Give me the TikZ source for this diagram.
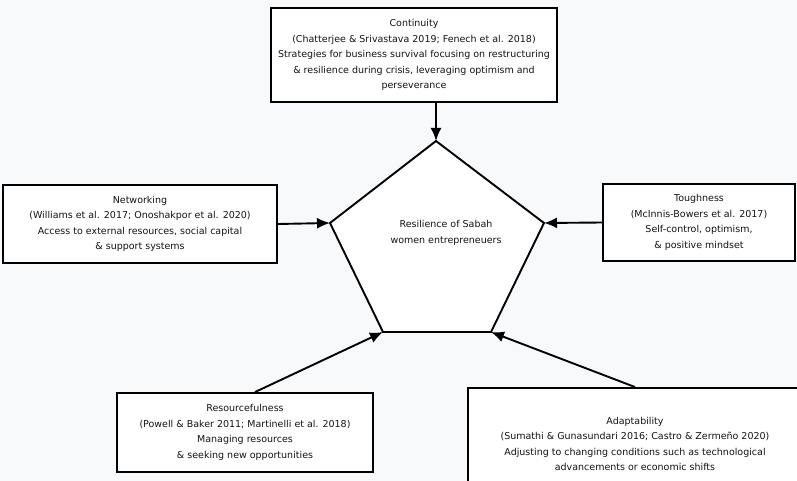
\documentclass[tikz,border=0pt]{standalone}
\definecolor{pagegrey}{RGB}{248,249,251}
\definecolor{textdark}{RGB}{20,20,20}
\usepackage{fontspec}
\setmainfont{DejaVu Sans}
\usepackage{tikz}
\usetikzlibrary{arrows.meta,positioning,calc}

\begin{document}
\begin{tikzpicture}[x=1pt,y=-1pt,
    themebox/.style={draw=black, line width=1.9pt, fill=white, align=center, text=textdark,
        font=\fontsize{9.5}{15.5}\selectfont, inner sep=0pt},
    feed/.style={line width=1.9pt, -{Latex[length=13pt,width=11pt]}}]
    \fill[pagegrey] (0,0) rectangle (797,481);
    \useasboundingbox (0,0) rectangle (797,481);
    \clip (0,0) rectangle (797,481);

    % pentagon corners
    \coordinate (ptop) at (436,141);
    \coordinate (pleft) at (330,223);
    \coordinate (pright) at (544,223);
    \coordinate (pbl) at (383,332);
    \coordinate (pbr) at (491,332);
    \draw[line width=1.9pt, fill=white] (ptop) -- (pright) -- (pbr) -- (pbl) -- (pleft) -- cycle;
    \node[text=textdark, align=center, font=\fontsize{9.5}{15.5}\selectfont] (core) at (446,233)
        {Resilience of Sabah\\women entrepreneuers};

    % theme boxes
    \node[themebox, minimum width=286pt, minimum height=94pt] (cont) at (414,55)
        {Continuity\\(Chatterjee \& Srivastava 2019; Fenech et al. 2018)\\Strategies for business survival focusing on restructuring\\\& resilience during crisis, leveraging optimism and\\perseverance};
    \node[themebox, minimum width=274pt, minimum height=78pt] (netw) at (140,224)
        {Networking\\(Williams et al. 2017; Onoshakpor et al. 2020)\\Access to external resources, social capital\\\& support systems};
    \node[themebox, minimum width=192pt, minimum height=77pt] (tough) at (699,222.5)
        {Toughness\\(McInnis-Bowers et al. 2017)\\Self-control, optimism,\\\& positive mindset};
    \node[themebox, minimum width=256pt, minimum height=79pt] (resf) at (245,432.5)
        {Resourcefulness\\(Powell \& Baker 2011; Martinelli et al. 2018)\\Managing resources\\\& seeking new opportunities};
    \node[themebox, minimum width=334pt, minimum height=112pt] (adapt) at (635,444)
        {Adaptability\\(Sumathi \& Gunasundari 2016; Castro \& Zermeño 2020)\\Adjusting to changing conditions such as technological\\advancements or economic shifts};

    % arrows into the pentagon
    \draw[feed] (ptop |- cont.south) -- (ptop);
    \draw[feed] (netw.east) -- (pleft);
    \draw[feed] (tough.west) -- (pright);
    \draw[feed] ([xshift=10pt]resf.north) -- (pbl);
    \draw[feed] (adapt.north) -- (pbr);
\end{tikzpicture}
\end{document}
